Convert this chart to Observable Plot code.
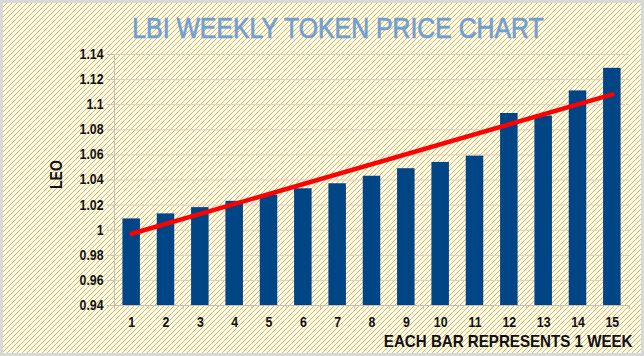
<!DOCTYPE html>
<html>
<head>
<meta charset="utf-8">
<script src="https://cdn.jsdelivr.net/npm/d3@7"></script>
<script src="https://cdn.jsdelivr.net/npm/@observablehq/plot@0.6"></script>
<style>
  html, body { margin: 0; padding: 0; background: #fff; }
  #wrap {
    position: relative; width: 644px; height: 356px; overflow: hidden;
    background-color: #fffbe2;
    background-image: url("data:image/svg+xml,%3Csvg xmlns='http://www.w3.org/2000/svg' width='5' height='5'%3E%3Cpath d='M-1 6 L6 -1 M-1 1 L1 -1 M4 6 L6 4' stroke='%23b8904a' stroke-width='0.65' fill='none'/%3E%3C/svg%3E");
    background-size: 5px 5px;
  }
  #border { position: absolute; inset: 0; box-shadow: inset 0 0 0 3px #d8d8d8; pointer-events: none; }
  #wrap svg { position: absolute; left: 0; top: 0; }
</style>
</head>
<body>
<div id="wrap"><div id="border"></div></div>
<script>
const titleText = "LBI WEEKLY TOKEN PRICE CHART";
const xLabel = "EACH BAR REPRESENTS 1 WEEK";
const yLabel = "LEO";
const weeks = [1, 2, 3, 4, 5, 6, 7, 8, 9, 10, 11, 12, 13, 14, 15];
const prices = [1.009, 1.013, 1.018, 1.023, 1.028, 1.033, 1.037, 1.043, 1.049, 1.054, 1.059, 1.093, 1.091, 1.111, 1.129];
const yTicks = [0.94, 0.96, 0.98, 1, 1.02, 1.04, 1.06, 1.08, 1.1, 1.12, 1.14];

const data = weeks.map((w, i) => ({week: w, price: prices[i]}));
const font = "'Liberation Sans', Arial, sans-serif";
const bounds = d3.range(0.5, 15.6, 1);

const chart = Plot.plot({
  width: 644,
  height: 356,
  marginLeft: 114,
  marginRight: 15,
  marginTop: 54,
  marginBottom: 51,
  style: {background: "transparent", fontFamily: font, fontSize: "14px", color: "#111", overflow: "visible"},
  x: {type: "linear", domain: [0.5, 15.5], axis: null},
  y: {type: "linear", domain: [0.94, 1.14], axis: null},
  marks: [
    Plot.ruleY(yTicks, {y: d => d, stroke: "#e2cabd", strokeWidth: 1}),
    Plot.ruleY(yTicks, {y: d => d, x1: 0.3, x2: 0.5, stroke: "#c8bfb2"}),
    Plot.ruleX([0.5], {x: d => d, y1: 0.94, y2: 1.14, stroke: "#c8bfb2"}),
    Plot.ruleY([0.94], {y: d => d, stroke: "#c8bfb2"}),
    Plot.ruleX(bounds, {x: d => d, y1: 0.94, y2: 0.9368, stroke: "#c8bfb2"}),
    Plot.rectY(data, {x1: d => d.week - 0.255, x2: d => d.week + 0.255, y1: 0.94, y2: "price", fill: "#004586"}),
    Plot.linearRegressionY(data, {x: "week", y: "price", stroke: "#ff0000", strokeWidth: 4.5, ci: 0}),
    Plot.text(yTicks, {x: 0.5, y: d => d, text: d => String(d), textAnchor: "end", dx: -11, fontWeight: "bold", fill: "#111", className: "n88"}),
    Plot.text(weeks, {x: d => d, y: 0.94, text: d => String(d), dy: 17, fontWeight: "bold", fill: "#111", className: "n88"}),
    Plot.text([xLabel], {frameAnchor: "bottom-right", lineAnchor: "middle", dx: 3, dy: 36, fontWeight: "bold", fontSize: 17, textAnchor: "end", fill: "#111", className: "n89"}),
    Plot.text([yLabel], {frameAnchor: "left", lineAnchor: "middle", dx: -58, dy: 9, rotate: -90, fontWeight: "bold", fontSize: 16, fill: "#111", className: "n88"}),
    Plot.text([titleText], {frameAnchor: "top", lineAnchor: "middle", dx: -34, dy: -26, fontSize: 29, fill: "#729fcf", stroke: "#729fcf", strokeWidth: 0.7, className: "n86"})
  ]
});
const scales = {n88: 0.88, n89: 0.89, n86: 0.856};
for (const [cls, s] of Object.entries(scales)) {
  chart.querySelectorAll("." + cls + " text").forEach(t => {
    const tr = t.getAttribute("transform") || "";
    t.setAttribute("transform", tr + ` scale(${s},1)`);
  });
}
document.getElementById("wrap").insertBefore(chart, document.getElementById("border"));
</script>
</body>
</html>
